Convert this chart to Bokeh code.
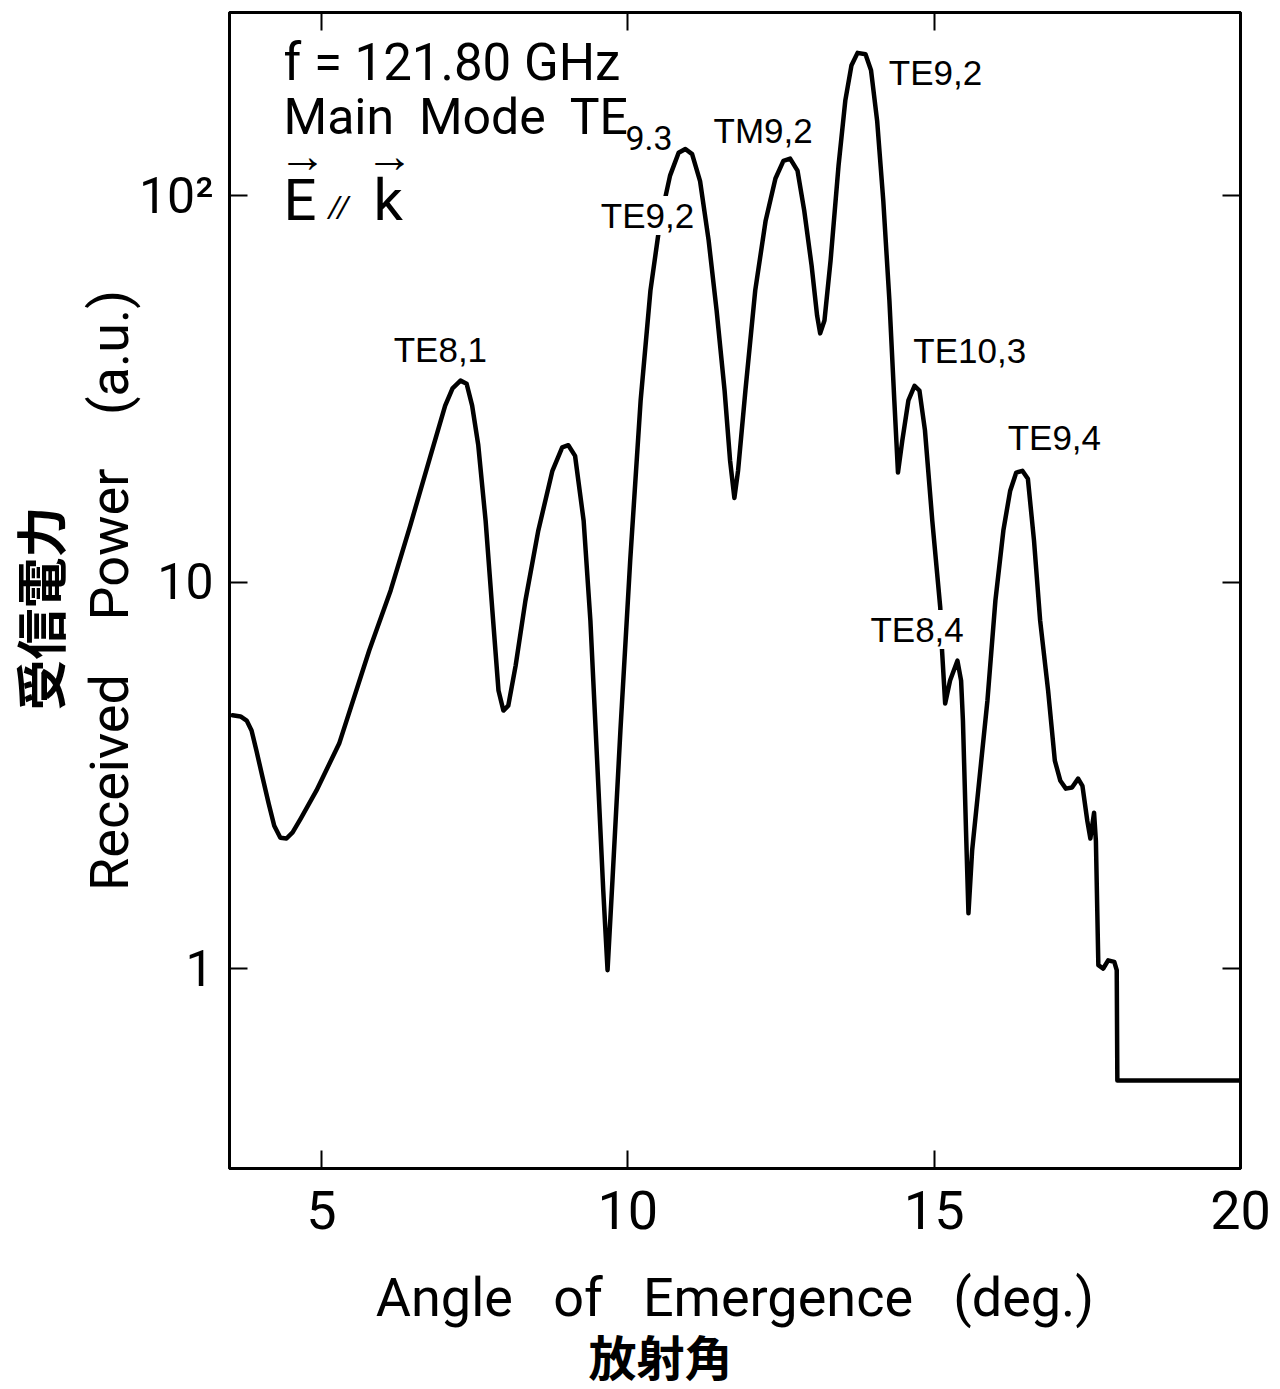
from bokeh.plotting import figure
from bokeh.models import (Range1d, FixedTicker, LinearAxis, LogAxis, Label,
                          Title, CustomJSTickFormatter)
from bokeh.embed import file_html
from bokeh.resources import INLINE

# Received power vs. angle of emergence (f = 121.80 GHz, main mode TE9,3)
angle_deg = [3.55, 3.68, 3.78, 3.86, 3.94, 4.04, 4.14, 4.23, 4.33, 4.43,
             4.53, 4.66, 4.92, 5.29, 5.78, 6.13, 6.45, 6.78, 7.02, 7.14,
             7.27, 7.37, 7.46, 7.56, 7.68, 7.79, 7.89, 7.97, 8.05, 8.17,
             8.33, 8.54, 8.77, 8.93, 9.03, 9.14, 9.28, 9.39, 9.50, 9.60,
             9.67, 9.75, 9.88, 10.04, 10.21, 10.37, 10.53, 10.69, 10.83, 10.94,
             11.05, 11.18, 11.32, 11.45, 11.58, 11.67, 11.74, 11.80, 11.92, 12.08,
             12.25, 12.41, 12.54, 12.65, 12.77, 12.88, 13.00, 13.09, 13.14, 13.21,
             13.31, 13.44, 13.55, 13.65, 13.75, 13.88, 13.97, 14.07, 14.17, 14.27,
             14.35, 14.41, 14.48, 14.58, 14.68, 14.76, 14.85, 14.97, 15.10, 15.13,
             15.18, 15.26, 15.38, 15.44, 15.47, 15.52, 15.56, 15.62, 15.72, 15.87,
             16.00, 16.13, 16.24, 16.34, 16.44, 16.53, 16.63, 16.73, 16.86, 16.97,
             17.06, 17.15, 17.25, 17.35, 17.42, 17.50, 17.55, 17.61, 17.64, 17.68,
             17.76, 17.84, 17.94, 17.98, 17.99, 20.0]

power_au = [4.52, 4.49, 4.38, 4.13, 3.66, 3.12, 2.67, 2.34, 2.18, 2.17,
            2.25, 2.44, 2.89, 3.82, 6.65, 9.51, 14.0, 21.2, 28.6, 31.7,
            33.2, 32.6, 28.6, 22.6, 14.4, 8.44, 5.24, 4.65, 4.79, 6.08,
            8.96, 13.6, 19.4, 22.3, 22.6, 21.2, 14.4, 7.95, 3.45, 1.59,
            0.99, 1.69, 4.13, 11.4, 29.5, 56.8, 86.1, 112.6, 129, 132,
            128, 109, 76.5, 50.4, 31.3, 20.6, 16.5, 19.4, 31.3, 56.8,
            86.1, 110.7, 123, 124.6, 116, 91.4, 65.9, 48.9, 44.0, 47.5,
            67.9, 119.6, 176, 217, 234, 232, 211, 156, 97, 53.5,
            29.5, 19.2, 23.2, 29.5, 32.2, 31.3, 24.7, 14.4, 8.59, 6.61,
            4.85, 5.56, 6.26, 5.56, 4.38, 2.28, 1.39, 2.02, 2.89, 4.94,
            8.96, 13.6, 17.2, 19.2, 19.4, 18.5, 12.8, 7.95, 5.24, 3.45,
            3.06, 2.92, 2.94, 3.10, 2.97, 2.41, 2.17, 2.53, 2.14, 1.02,
            1.00, 1.05, 1.04, 0.99, 0.513, 0.513]

x_ticks = [5, 10, 15, 20]
y_ticks = [1, 10, 100]

mode_names = ["TE8,1", "TE9,2", "TM9,2", "TE9,2", "TE10,3", "TE8,4", "TE9,4"]
# anchor of each mode name (left edge, in data units)
mode_label_x = [6.18, 9.56, 11.40, 14.26, 14.66, 13.96, 16.20]
mode_label_y = [39.9, 88.8, 147.3, 208.0, 39.7, 7.54, 23.6]

NARROW = "Roboto"
SANS = "Liberation Sans"
CJK = "Noto Sans CJK JP"
NB = "\u00a0"

p = figure(width=1280, height=1389,
           x_range=Range1d(3.5, 20.0), y_range=Range1d(0.3038, 297.6),
           y_axis_type="log", output_backend="svg", toolbar_location=None,
           min_border_left=229, min_border_right=40,
           min_border_top=12, min_border_bottom=221)
p.grid.visible = False
p.outline_line_color = "black"
p.outline_line_width = 3
p.background_fill_color = "white"
p.border_fill_color = "white"


def style_axis(ax, ticks):
    ax.ticker = FixedTicker(ticks=ticks)
    ax.major_tick_in = 18
    ax.major_tick_out = 0
    ax.minor_tick_in = 0
    ax.minor_tick_out = 0
    ax.major_tick_line_width = 2
    ax.major_tick_line_color = "black"
    ax.axis_line_width = 3
    ax.axis_line_color = "black"


xa = p.xaxis[0]
style_axis(xa, x_ticks)
xa.major_label_text_font = NARROW
xa.major_label_text_font_size = "54px"
xa.major_label_text_color = "black"
xa.major_label_standoff = 22
xa.axis_label = "Angle" + NB * 2 + " of" + NB * 2 + " Emergence" + NB * 2 + " (deg.)"
xa.axis_label_text_font = NARROW
xa.axis_label_text_font_size = "54px"
xa.axis_label_text_font_style = "normal"
xa.axis_label_text_color = "black"
xa.axis_label_standoff = 34

ya = p.yaxis[0]
style_axis(ya, y_ticks)
ya.formatter = CustomJSTickFormatter(
    code="return tick > 50 ? '10\u00b2' : tick.toFixed(0);")
ya.major_label_text_font = NARROW
ya.major_label_text_font_size = "50px"
ya.major_label_text_color = "black"
ya.major_label_standoff = 16
ya.axis_label = "Received" + NB * 3 + " Power" + NB * 3 + " (a.u.)"
ya.axis_label_text_font = NARROW
ya.axis_label_text_font_size = "54px"
ya.axis_label_text_font_style = "normal"
ya.axis_label_text_color = "black"
ya.axis_label_standoff = -5

blank = "return '';"
top_ax = LinearAxis(formatter=CustomJSTickFormatter(code=blank),
                    major_label_standoff=0, major_label_text_font_size="1px")
style_axis(top_ax, x_ticks[:3])
p.add_layout(top_ax, "above")

right_ax = LogAxis(formatter=CustomJSTickFormatter(code=blank),
                   major_label_standoff=0, major_label_text_font_size="1px")
style_axis(right_ax, y_ticks)
p.add_layout(right_ax, "right")

# Japanese titles for both axes
p.add_layout(Title(text="\u653e\u5c04\u89d2", align="left", offset=359,
                   text_font=CJK, text_font_size="48px", text_font_style="bold",
                   text_color="black", standoff=-28), "below")
p.add_layout(Title(text="\u53d7\u4fe1\u96fb\u529b", align="left", offset=458,
                   text_font=CJK, text_font_size="51px", text_font_style="bold",
                   text_color="black", standoff=-2), "left")

p.line(angle_deg, power_au, line_color="black", line_width=4.5,
       line_join="round", line_cap="round")

for name, lx, ly in zip(mode_names, mode_label_x, mode_label_y):
    p.add_layout(Label(x=lx, y=ly, text=name, text_font=SANS,
                       text_font_size="35px", text_color="black",
                       text_align="left", text_baseline="alphabetic",
                       background_fill_color="white", background_fill_alpha=1.0))


def screen_label(text, sx, sy, size, font=NARROW, align="left",
                 baseline="alphabetic", style="normal"):
    p.add_layout(Label(x=sx, y=sy, x_units="screen", y_units="screen",
                       text=text, text_font=font, text_font_size=size,
                       text_font_style=style, text_color="black",
                       text_align=align, text_baseline=baseline))


# condition block, upper left of the frame
screen_label("f = 121.80 GHz", 54, 1106, "51px")
screen_label("Main" + NB + " Mode" + NB + " TE", 54, 1052, "50px")
screen_label("9.3", 396, 1031, "34px")
screen_label("E", 54, 969, "58px")
screen_label("//", 99, 962, "30px", style="italic")
screen_label("k", 144, 969, "58px")
screen_label("\u2192", 73, 1013, "48px", align="center", baseline="middle")
screen_label("\u2192", 160, 1013, "48px", align="center", baseline="middle")

open("out.html", "w").write(file_html(p, INLINE))
